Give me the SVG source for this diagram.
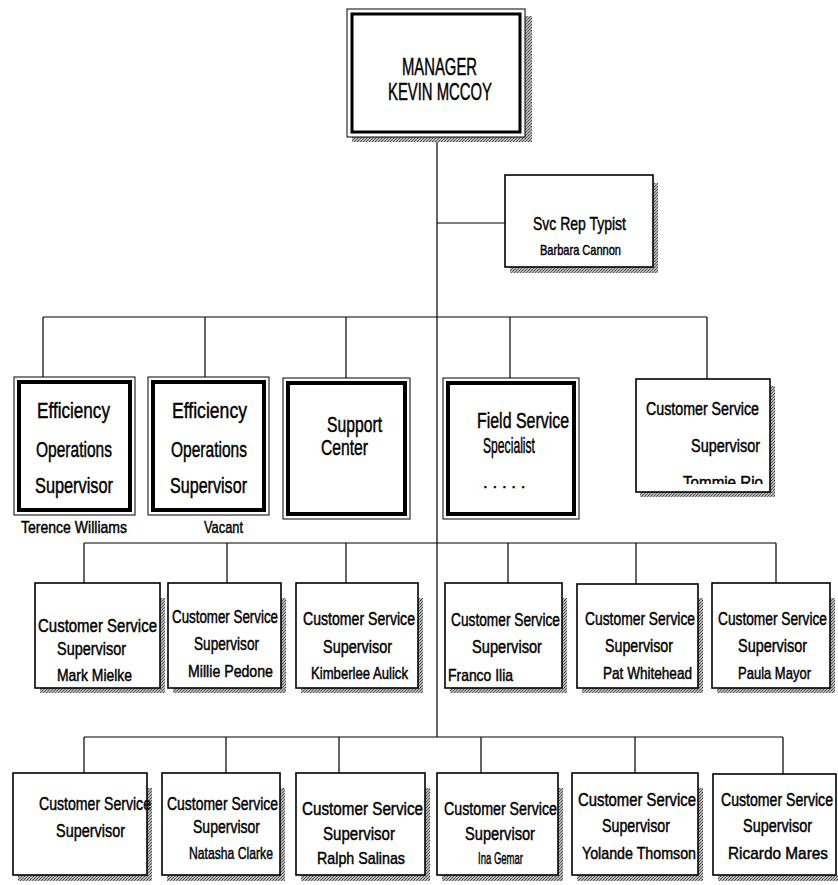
<svg xmlns="http://www.w3.org/2000/svg" width="838" height="885" viewBox="0 0 838 885">
<defs>
<pattern id="ht" width="3" height="3" patternUnits="userSpaceOnUse">
<rect width="3" height="3" fill="#b8b8b8"/>
<rect x="0" y="0" width="1" height="1" fill="#444"/>
<rect x="2" y="1" width="1" height="1" fill="#666"/>
<rect x="1" y="2" width="1" height="1" fill="#555"/>
</pattern>
<clipPath id="clipT"><rect x="637" y="380" width="132" height="104"/></clipPath>
</defs>
<style>
text{font-family:"Liberation Sans",Arial,sans-serif;fill:#000;stroke:#000;stroke-width:0.45}
.t1{font-size:24px}
.t2{font-size:22px}
.cs{font-size:18px}
.nm{font-size:17px}
.sm{font-size:15px}
.box{fill:#fff;stroke:#000;stroke-width:1.6}
.outer{fill:#fff;stroke:#000;stroke-width:1}
.inner{fill:none;stroke:#000;stroke-width:4}
.sh{fill:url(#ht)}
.ln{stroke:#000;stroke-width:1.2;fill:none}
</style>
<rect width="838" height="885" fill="#fff"/>

<g id="connectors">
<path class="ln" d="M437 137V737M437 223H505M43 317H707M43 317V377M205 317V377M346 317V378M510 317V378M707 317V379M84 543H776M84 543V583M227 543V583M346 543V583M508 543V583M636 543V584M776 543V583M84 737H783M84 737V773M226 737V773M339 737V773M481 737V773M635 737V773M783 737V774"/>
</g>

<g id="manager">
<rect class="sh" x="525" y="16" width="7" height="126"/>
<rect class="sh" x="352" y="137" width="180" height="5"/>
<rect class="outer" x="347" y="9" width="178" height="128"/>
<rect class="inner" x="352" y="14" width="168" height="118" style="stroke-width:3"/>
<text class="t1" x="402" y="75" textLength="75" lengthAdjust="spacingAndGlyphs">MANAGER</text>
<text class="t1" x="388" y="100" textLength="104" lengthAdjust="spacingAndGlyphs">KEVIN MCCOY</text>
</g>

<g id="typist">
<rect class="sh" x="653" y="183" width="5" height="90"/>
<rect class="sh" x="510" y="267" width="148" height="6"/>
<rect class="box" x="505" y="175" width="148" height="92"/>
<text class="t2" x="533" y="230" textLength="93" lengthAdjust="spacingAndGlyphs" style="font-size:19px">Svc Rep Typist</text>
<text class="sm" x="540" y="255" textLength="81" lengthAdjust="spacingAndGlyphs">Barbara Cannon</text>
</g>

<g id="eff1">
<rect class="outer" x="14" y="377" width="121" height="138"/>
<rect class="inner" x="19" y="382" width="111" height="128"/>
<text class="t2" x="37" y="418" textLength="73" lengthAdjust="spacingAndGlyphs">Efficiency</text>
<text class="t2" x="36" y="457" textLength="76" lengthAdjust="spacingAndGlyphs">Operations</text>
<text class="t2" x="35" y="493" textLength="78" lengthAdjust="spacingAndGlyphs">Supervisor</text>
<text class="nm" x="21" y="533" textLength="106" lengthAdjust="spacingAndGlyphs">Terence Williams</text>
</g>

<g id="eff2">
<rect class="outer" x="148" y="377" width="121" height="138"/>
<rect class="inner" x="153" y="382" width="111" height="128"/>
<text class="t2" x="172" y="418" textLength="75" lengthAdjust="spacingAndGlyphs">Efficiency</text>
<text class="t2" x="171" y="457" textLength="76" lengthAdjust="spacingAndGlyphs">Operations</text>
<text class="t2" x="170" y="493" textLength="77" lengthAdjust="spacingAndGlyphs">Supervisor</text>
<text class="nm" x="204" y="533" textLength="39" lengthAdjust="spacingAndGlyphs">Vacant</text>
</g>

<g id="support">
<rect class="outer" x="283" y="378" width="127" height="141"/>
<rect class="inner" x="288" y="383" width="117" height="131"/>
<text class="t2" x="327" y="432" textLength="55" lengthAdjust="spacingAndGlyphs">Support</text>
<text class="t2" x="321" y="455" textLength="47" lengthAdjust="spacingAndGlyphs">Center</text>
</g>

<g id="field">
<rect class="outer" x="443" y="378" width="136" height="141"/>
<rect class="inner" x="448" y="383" width="126" height="131"/>
<text class="t2" x="477" y="428" textLength="92" lengthAdjust="spacingAndGlyphs">Field Service</text>
<text class="t2" x="483" y="453" textLength="52" lengthAdjust="spacingAndGlyphs">Specialist</text>
<text class="nm" x="483" y="488">.  .    .   .   .</text>
</g>

<g id="cs-tommie">
<rect class="sh" x="770" y="386" width="5" height="111"/>
<rect class="sh" x="640" y="492" width="135" height="5"/>
<rect class="box" x="636" y="379" width="134" height="113"/>
<text class="cs" x="646" y="415" textLength="113" lengthAdjust="spacingAndGlyphs">Customer Service</text>
<text class="cs" x="691" y="452" textLength="69" lengthAdjust="spacingAndGlyphs">Supervisor</text>
<text class="nm" x="683" y="488" textLength="80" lengthAdjust="spacingAndGlyphs" clip-path="url(#clipT)">Tommie Rio</text>
</g>

<g id="cs-mark">
<rect class="sh" x="160" y="598" width="5" height="95"/>
<rect class="sh" x="40" y="688" width="125" height="5"/>
<rect class="box" x="35" y="583" width="125" height="105"/>
<text class="cs" x="38" y="632" textLength="119" lengthAdjust="spacingAndGlyphs">Customer Service</text>
<text class="cs" x="57" y="655" textLength="69" lengthAdjust="spacingAndGlyphs">Supervisor</text>
<text class="nm" x="57" y="681" textLength="75" lengthAdjust="spacingAndGlyphs">Mark Mielke</text>
</g>

<g id="cs-millie">
<rect class="sh" x="281" y="598" width="5" height="95"/>
<rect class="sh" x="173" y="688" width="113" height="5"/>
<rect class="box" x="168" y="583" width="113" height="105"/>
<text class="cs" x="172" y="623" textLength="106" lengthAdjust="spacingAndGlyphs">Customer Service</text>
<text class="cs" x="194" y="650" textLength="65" lengthAdjust="spacingAndGlyphs">Supervisor</text>
<text class="nm" x="188" y="677" textLength="85" lengthAdjust="spacingAndGlyphs">Millie Pedone</text>
</g>

<g id="cs-kimberlee">
<rect class="sh" x="418" y="598" width="5" height="95"/>
<rect class="sh" x="301" y="688" width="122" height="5"/>
<rect class="box" x="296" y="583" width="122" height="105"/>
<text class="cs" x="303" y="625" textLength="112" lengthAdjust="spacingAndGlyphs">Customer Service</text>
<text class="cs" x="323" y="653" textLength="69" lengthAdjust="spacingAndGlyphs">Supervisor</text>
<text class="nm" x="311" y="679" textLength="97" lengthAdjust="spacingAndGlyphs">Kimberlee Aulick</text>
</g>

<g id="cs-franco">
<rect class="sh" x="562" y="598" width="5" height="95"/>
<rect class="sh" x="450" y="688" width="117" height="5"/>
<rect class="box" x="445" y="583" width="117" height="105"/>
<text class="cs" x="451" y="626" textLength="109" lengthAdjust="spacingAndGlyphs">Customer Service</text>
<text class="cs" x="472" y="653" textLength="70" lengthAdjust="spacingAndGlyphs">Supervisor</text>
<text class="nm" x="448" y="681" textLength="65" lengthAdjust="spacingAndGlyphs">Franco Ilia</text>
</g>

<g id="cs-pat">
<rect class="sh" x="698" y="598" width="5" height="95"/>
<rect class="sh" x="582" y="688" width="121" height="5"/>
<rect class="box" x="577" y="584" width="121" height="104"/>
<text class="cs" x="585" y="625" textLength="110" lengthAdjust="spacingAndGlyphs">Customer Service</text>
<text class="cs" x="605" y="652" textLength="68" lengthAdjust="spacingAndGlyphs">Supervisor</text>
<text class="nm" x="603" y="679" textLength="89" lengthAdjust="spacingAndGlyphs">Pat Whitehead</text>
</g>

<g id="cs-paula">
<rect class="sh" x="830" y="598" width="5" height="95"/>
<rect class="sh" x="717" y="688" width="118" height="5"/>
<rect class="box" x="712" y="583" width="118" height="105"/>
<text class="cs" x="718" y="625" textLength="109" lengthAdjust="spacingAndGlyphs">Customer Service</text>
<text class="cs" x="738" y="652" textLength="69" lengthAdjust="spacingAndGlyphs">Supervisor</text>
<text class="nm" x="738" y="679" textLength="73" lengthAdjust="spacingAndGlyphs">Paula Mayor</text>
</g>

<g id="cs-r4-1">
<rect class="sh" x="147" y="788" width="5" height="92"/>
<rect class="sh" x="18" y="875" width="134" height="6"/>
<rect class="box" x="13" y="773" width="134" height="102"/>
<text class="cs" x="39" y="810" textLength="112" lengthAdjust="spacingAndGlyphs">Customer Service</text>
<text class="cs" x="56" y="837" textLength="69" lengthAdjust="spacingAndGlyphs">Supervisor</text>
</g>

<g id="cs-natasha">
<rect class="sh" x="280" y="788" width="5" height="92"/>
<rect class="sh" x="167" y="875" width="118" height="6"/>
<rect class="box" x="162" y="773" width="118" height="102"/>
<text class="cs" x="167" y="810" textLength="111" lengthAdjust="spacingAndGlyphs">Customer Service</text>
<text class="cs" x="193" y="833" textLength="67" lengthAdjust="spacingAndGlyphs">Supervisor</text>
<text class="nm" x="189" y="859" textLength="84" lengthAdjust="spacingAndGlyphs">Natasha Clarke</text>
</g>

<g id="cs-ralph">
<rect class="sh" x="425" y="788" width="5" height="92"/>
<rect class="sh" x="301" y="875" width="129" height="6"/>
<rect class="box" x="296" y="773" width="129" height="102"/>
<text class="cs" x="302" y="815" textLength="121" lengthAdjust="spacingAndGlyphs">Customer Service</text>
<text class="cs" x="323" y="840" textLength="72" lengthAdjust="spacingAndGlyphs">Supervisor</text>
<text class="nm" x="317" y="864" textLength="88" lengthAdjust="spacingAndGlyphs">Ralph Salinas</text>
</g>

<g id="cs-ina">
<rect class="sh" x="558" y="788" width="5" height="92"/>
<rect class="sh" x="442" y="875" width="121" height="6"/>
<rect class="box" x="437" y="773" width="121" height="102"/>
<text class="cs" x="444" y="815" textLength="113" lengthAdjust="spacingAndGlyphs">Customer Service</text>
<text class="cs" x="465" y="840" textLength="70" lengthAdjust="spacingAndGlyphs">Supervisor</text>
<text class="nm" x="478" y="864" textLength="45" lengthAdjust="spacingAndGlyphs">Ina Gemar</text>
</g>

<g id="cs-yolande">
<rect class="sh" x="698" y="788" width="5" height="92"/>
<rect class="sh" x="577" y="875" width="126" height="6"/>
<rect class="box" x="572" y="773" width="126" height="102"/>
<text class="cs" x="578" y="806" textLength="118" lengthAdjust="spacingAndGlyphs">Customer Service</text>
<text class="cs" x="602" y="832" textLength="68" lengthAdjust="spacingAndGlyphs">Supervisor</text>
<text class="nm" x="582" y="859" textLength="114" lengthAdjust="spacingAndGlyphs">Yolande Thomson</text>
</g>

<g id="cs-ricardo">
<rect class="sh" x="718" y="875" width="120" height="6"/>
<rect class="box" x="713" y="774" width="123" height="101"/>
<text class="cs" x="721" y="806" textLength="112" lengthAdjust="spacingAndGlyphs">Customer Service</text>
<text class="cs" x="743" y="832" textLength="69" lengthAdjust="spacingAndGlyphs">Supervisor</text>
<text class="nm" x="728" y="859" textLength="100" lengthAdjust="spacingAndGlyphs">Ricardo Mares</text>
</g>
</svg>
